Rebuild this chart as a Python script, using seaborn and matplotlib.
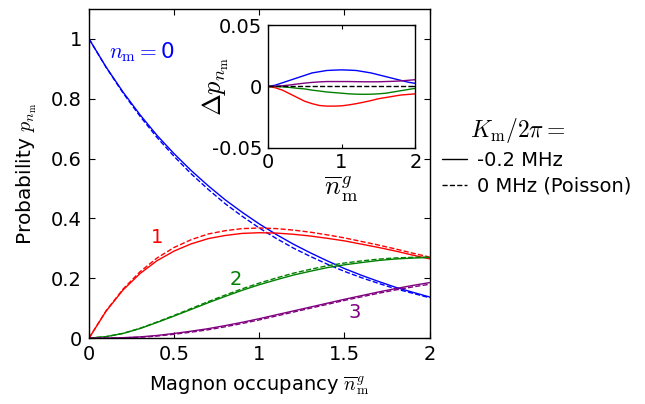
import numpy as np
import pandas as pd
import matplotlib
matplotlib.use("Agg")
import matplotlib.pyplot as plt
from matplotlib.lines import Line2D
import seaborn as sns

# mean magnon occupancy
nbar = [0.0, 0.1, 0.2, 0.3, 0.4, 0.5, 0.6, 0.7, 0.8, 0.9, 1.0,
        1.1, 1.2, 1.3, 1.4, 1.5, 1.6, 1.7, 1.8, 1.9, 2.0]

# Poisson (dashed) probabilities for n_m = 0..3
p0_pois = [1.000, 0.905, 0.819, 0.741, 0.670, 0.607, 0.549, 0.497, 0.449, 0.407, 0.368,
           0.333, 0.301, 0.273, 0.247, 0.223, 0.202, 0.183, 0.165, 0.150, 0.135]
p1_pois = [0.000, 0.091, 0.164, 0.222, 0.268, 0.303, 0.329, 0.348, 0.359, 0.366, 0.368,
           0.366, 0.361, 0.354, 0.345, 0.335, 0.323, 0.311, 0.298, 0.284, 0.271]
p2_pois = [0.000, 0.005, 0.016, 0.033, 0.054, 0.076, 0.099, 0.122, 0.144, 0.165, 0.184,
           0.201, 0.217, 0.230, 0.242, 0.251, 0.258, 0.264, 0.268, 0.270, 0.271]
p3_pois = [0.000, 0.000, 0.001, 0.003, 0.007, 0.013, 0.020, 0.028, 0.038, 0.049, 0.061,
           0.074, 0.087, 0.100, 0.113, 0.126, 0.138, 0.150, 0.161, 0.171, 0.180]

# deviation from Poisson for K_m/2pi = -0.2 MHz (inset)
d0 = [0.0, 0.001, 0.003, 0.005, 0.007, 0.009, 0.011, 0.012, 0.013, 0.0133, 0.0135,
      0.0133, 0.013, 0.012, 0.011, 0.0095, 0.008, 0.0065, 0.005, 0.0035, 0.0025]
d1 = [0.0, -0.001, -0.003, -0.006, -0.009, -0.012, -0.014, -0.0155, -0.016, -0.016, -0.0158,
      -0.015, -0.014, -0.0128, -0.0115, -0.010, -0.009, -0.008, -0.007, -0.0065, -0.006]
d2 = [0.0, 0.0, -0.0003, -0.0008, -0.0015, -0.002, -0.003, -0.0037, -0.0045, -0.005, -0.0055,
      -0.006, -0.0063, -0.0064, -0.0063, -0.006, -0.0055, -0.0045, -0.0035, -0.0025, -0.0015]
d3 = [0.0, 0.0002, 0.0006, 0.0012, 0.002, 0.0027, 0.0033, 0.0037, 0.004, 0.004, 0.004,
      0.004, 0.0039, 0.0038, 0.0038, 0.0038, 0.004, 0.0042, 0.0045, 0.005, 0.0055]

colors = ["#0000ff", "#ff0000", "#008000", "#800080"]
pois = [p0_pois, p1_pois, p2_pois, p3_pois]
devs = [d0, d1, d2, d3]

sns.set_style("ticks")
plt.rcParams["font.family"] = ["DejaVu Sans"]
plt.rcParams["mathtext.fontset"] = "cm"
plt.rcParams["xtick.direction"] = "in"
plt.rcParams["ytick.direction"] = "in"
plt.rcParams["xtick.top"] = True
plt.rcParams["ytick.right"] = True
plt.rcParams["axes.linewidth"] = 1.0
plt.rcParams["axes.edgecolor"] = "black"
for k in ["text.color", "axes.labelcolor", "xtick.color", "ytick.color"]:
    plt.rcParams[k] = "black"

fig = plt.figure(figsize=(6.45, 4.04), dpi=100)
ax = fig.add_axes([0.138, 0.163, 0.528, 0.815])

for c, p, d in zip(colors, pois, devs):
    solid = np.array(p) + np.array(d)
    sns.lineplot(x=nbar, y=p, ax=ax, color=c, lw=1.0, linestyle="--")
    sns.lineplot(x=nbar, y=solid, ax=ax, color=c, lw=1.0)

ax.set_xlim(0, 2)
ax.set_ylim(0, 1.1)
ax.set_xticks([0, 0.5, 1, 1.5, 2])
ax.set_xticklabels(["0", "0.5", "1", "1.5", "2"])
ax.set_yticks([0, 0.2, 0.4, 0.6, 0.8, 1])
ax.set_yticklabels(["0", "0.2", "0.4", "0.6", "0.8", "1"])
ax.tick_params(labelsize=14, length=4, width=0.8, pad=5)
ax.set_xlabel(r"Magnon occupancy $\overline{n}_\mathrm{m}^g$", fontsize=14, labelpad=7)
ax.set_ylabel(r"Probability $p_{n_\mathrm{m}}$", fontsize=14.5, labelpad=9)

ax.text(0.12, 0.955, r"$n_\mathrm{m} = $0", color=colors[0], fontsize=15.5, va="center")
ax.text(0.4, 0.335, "1", color=colors[1], fontsize=14, ha="center", va="center")
ax.text(0.86, 0.195, "2", color=colors[2], fontsize=14, ha="center", va="center")
ax.text(1.56, 0.085, "3", color=colors[3], fontsize=14, ha="center", va="center")

# inset with deviations
ins = fig.add_axes([0.415, 0.634, 0.229, 0.304])
for c, d in zip(colors, devs):
    sns.lineplot(x=nbar, y=d, ax=ins, color=c, lw=1.0)
ins.axhline(0, color="black", lw=1.0, ls="--")
ins.set_xlim(0, 2)
ins.set_ylim(-0.05, 0.05)
ins.set_xticks([0, 1, 2])
ins.set_xticklabels(["0", "1", "2"])
ins.set_yticks([-0.05, 0, 0.05])
ins.set_yticklabels(["-0.05", "0", "0.05"])
ins.tick_params(labelsize=14, length=3, width=0.8, pad=4)
ins.set_xlabel(r"$\overline{n}_\mathrm{m}^g$", fontsize=19, labelpad=2)
ins.set_ylabel(r"$\Delta p_{n_\mathrm{m}}$", fontsize=19)
ins.yaxis.set_label_coords(-0.25, 0.5)

# legend, with its heading as a separate text
fig.text(0.729, 0.678, r"$K_\mathrm{m}/2\pi =$", fontsize=17, va="center")
handles = [Line2D([], [], color="black", lw=1.0),
           Line2D([], [], color="black", lw=1.0, ls="--")]
leg = fig.legend(handles, ["-0.2 MHz", "0 MHz (Poisson)"],
                 loc="upper left", bbox_to_anchor=(0.685, 0.627),
                 frameon=False, fontsize=14, handlelength=1.3,
                 handletextpad=0.5, labelspacing=0.35,
                 borderaxespad=0, borderpad=0)

fig.savefig("out.png", dpi=100)
